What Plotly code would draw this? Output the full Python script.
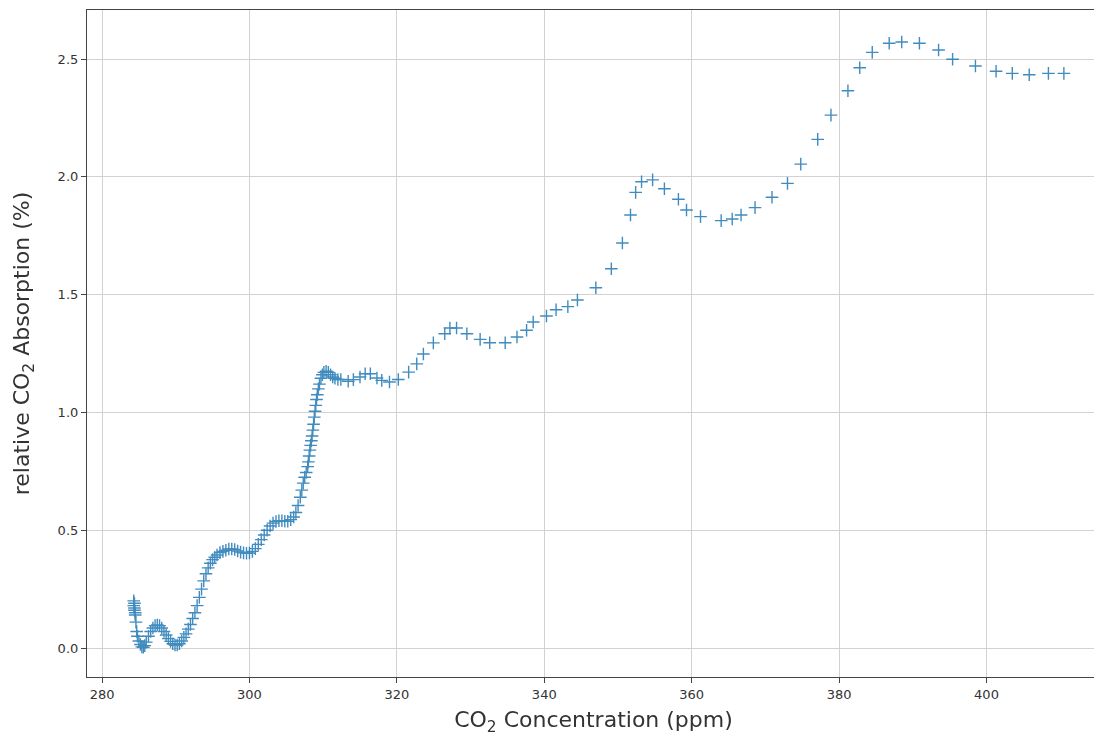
import plotly.graph_objects as go

# CO2 concentration (ppm) and relative absorption (%)
co2_dense = [284.3, 284.3, 284.4, 284.4, 284.4, 284.5, 284.5, 284.6, 284.7, 284.8,
             285.0, 285.2, 285.4, 285.6, 285.8, 286.0, 286.3, 286.6, 286.9, 287.2,
             287.5, 287.8, 288.1, 288.4, 288.7, 289.0, 289.3, 289.6, 289.9, 290.2,
             290.5, 290.8, 291.1, 291.4, 291.7, 292.0, 292.3, 292.6, 292.9, 293.2,
             293.5, 293.8, 294.1, 294.4, 294.7, 295.0, 295.3, 295.6, 296.0, 296.4,
             296.8, 297.2, 297.6, 298.0, 298.4, 298.8, 299.2, 299.6, 300.0, 300.4,
             300.8, 301.2, 301.6, 302.0, 302.4, 302.8, 303.2, 303.6, 304.0, 304.4,
             304.8, 305.2, 305.6, 306.0, 306.3, 306.6, 306.9, 307.1, 307.3, 307.5,
             307.7, 307.9, 308.0, 308.1, 308.2, 308.3, 308.4, 308.5, 308.6, 308.7,
             308.8, 308.9, 309.0, 309.1, 309.2, 309.35, 309.5, 309.7, 309.9, 310.1,
             310.4, 310.7, 311.0, 311.3, 311.6, 312.0, 312.4]
abs_dense = [0.20, 0.18, 0.17, 0.16, 0.19, 0.15, 0.14, 0.11, 0.07, 0.05,
             0.03, 0.015, 0.005, 0.003, 0.01, 0.025, 0.05, 0.07, 0.085, 0.095,
             0.098, 0.095, 0.085, 0.07, 0.055, 0.04, 0.028, 0.018, 0.013, 0.013,
             0.018, 0.03, 0.045, 0.06, 0.08, 0.10, 0.125, 0.15, 0.18, 0.215,
             0.25, 0.285, 0.315, 0.34, 0.36, 0.375, 0.385, 0.395, 0.405, 0.41,
             0.415, 0.42, 0.42, 0.418, 0.412, 0.407, 0.404, 0.402, 0.403, 0.41,
             0.422, 0.44, 0.46, 0.48, 0.50, 0.518, 0.53, 0.537, 0.54, 0.54,
             0.538, 0.538, 0.545, 0.556, 0.575, 0.605, 0.64, 0.67, 0.70, 0.725,
             0.745, 0.77, 0.79, 0.815, 0.84, 0.86, 0.88, 0.90, 0.925, 0.95,
             0.98, 1.005, 1.03, 1.055, 1.075, 1.10, 1.12, 1.145, 1.16, 1.17,
             1.175, 1.17, 1.16, 1.15, 1.145, 1.14, 1.14]

co2_sparse = [313.4, 314.1, 315.0, 315.7, 316.4, 317.3, 317.95, 319.0, 320.2, 321.6,
              322.7, 323.6, 324.95, 326.5, 327.2, 328.1, 329.5, 331.3, 332.6, 334.7,
              336.3, 337.6, 338.5, 340.3, 341.6, 343.2, 344.5, 347.0, 349.1, 350.6,
              351.7, 352.4, 353.2, 354.7, 356.3, 358.2, 359.3, 361.2, 364.0, 365.5,
              366.7, 368.6, 370.9, 373.0, 374.8, 377.1, 378.9, 381.2, 382.8, 384.5,
              386.8, 388.5, 390.9, 393.5, 395.4, 398.5, 401.3, 403.5, 405.8, 408.4,
              410.5]
abs_sparse = [1.132, 1.139, 1.150, 1.164, 1.164, 1.146, 1.136, 1.129, 1.140, 1.171,
              1.206, 1.248, 1.295, 1.334, 1.358, 1.358, 1.334, 1.310, 1.296, 1.296,
              1.320, 1.349, 1.384, 1.409, 1.436, 1.449, 1.477, 1.529, 1.610, 1.719,
              1.838, 1.934, 1.979, 1.987, 1.949, 1.905, 1.859, 1.831, 1.814, 1.821,
              1.838, 1.869, 1.913, 1.972, 2.054, 2.159, 2.262, 2.365, 2.463, 2.528,
              2.567, 2.572, 2.567, 2.538, 2.499, 2.470, 2.448, 2.439, 2.433, 2.439,
              2.439]

co2 = co2_dense + co2_sparse
absorption = abs_dense + abs_sparse

x_ticks = [280, 300, 320, 340, 360, 380, 400]
y_ticks = [0.0, 0.5, 1.0, 1.5, 2.0, 2.5]

fig = go.Figure(go.Scatter(
    x=co2, y=absorption, mode="markers",
    marker=dict(symbol="cross-thin", size=9, color="#1f77b4",
                line=dict(width=1.4, color="#1f77b4")),
    opacity=0.85,
))

axis_common = dict(
    showgrid=True, gridcolor="#d2d2d2", gridwidth=1.2,
    showline=True, linecolor="#444444", linewidth=1.2, mirror=True,
    ticks="outside", ticklen=5, tickcolor="#444444", tickwidth=1,
    zeroline=False, automargin=False,
    tickfont=dict(family="DejaVu Sans", size=13, color="#333333"),
)

fig.update_layout(
    width=1094, height=728,
    paper_bgcolor="white", plot_bgcolor="white",
    margin=dict(l=79, r=2, t=2, b=59, autoexpand=False),
    showlegend=False,
    font=dict(family="DejaVu Sans", color="#333333"),
    xaxis=dict(range=[277.96, 415.4], tickvals=x_ticks,
               ticktext=[str(v) for v in x_ticks],
               title=dict(text="CO<sub>2</sub> Concentration (ppm)",
                          font=dict(size=22, color="#333333"), standoff=15),
               **axis_common),
    yaxis=dict(range=[-0.123, 2.708], tickvals=y_ticks,
               ticktext=[f"{v:.1f}" for v in y_ticks],
               title=dict(text="relative CO<sub>2</sub> Absorption (%)",
                          font=dict(size=22, color="#333333"), standoff=21),
               **axis_common),
)

fig.write_html("out.html")
